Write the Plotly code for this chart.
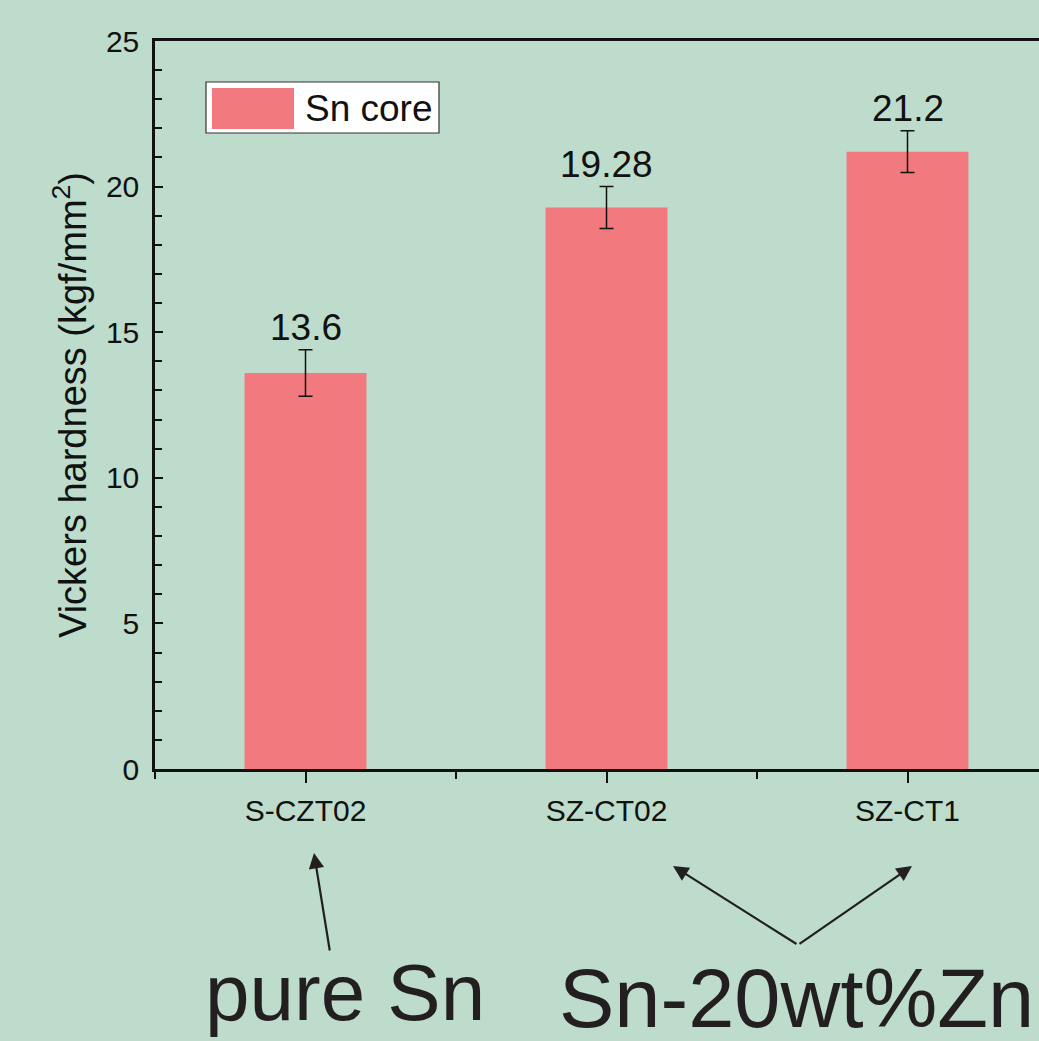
import plotly.graph_objects as go

categories = ["S-CZT02", "SZ-CT02", "SZ-CT1"]
hardness = [13.6, 19.28, 21.2]
errors = [0.8, 0.72, 0.72]
value_labels = ["13.6", "19.28", "21.2"]
series_name = "Sn core"
y_ticks = [0, 5, 10, 15, 20, 25]

BG = "#BDDCCB"
BAR = "#F2797D"
INK = "#231F20"
FONT = "Liberation Sans, Arial, sans-serif"

W, H = 1039, 1041
ML, MR, MT, MB = 155, 0, 41, 272
PW = W - ML - MR
PH = H - MT - MB

def px(x):
    return (x - ML) / PW

def py(y):
    return (H - MB - y) / PH

xs = list(range(len(categories)))

fig = go.Figure()
fig.add_trace(go.Bar(
    x=xs, y=hardness, width=0.405, name=series_name,
    marker=dict(color=BAR, line=dict(width=0)),
    error_y=dict(type="data", array=errors, visible=True,
                 color="#111111", thickness=1.5, width=7),
    showlegend=False,
))

# value labels above error bars
for xi, v, e, t in zip(xs, hardness, errors, value_labels):
    fig.add_annotation(x=xi, y=v + e, xref="x", yref="y", text=t,
                       showarrow=False, yanchor="bottom", yshift=0,
                       font=dict(size=37, color="#111111", family=FONT))

# manual legend
fig.add_shape(type="rect", xref="paper", yref="paper",
              x0=px(206), x1=px(439), y0=py(133), y1=py(82),
              fillcolor="white", line=dict(color="#333333", width=1.2))
fig.add_shape(type="rect", xref="paper", yref="paper",
              x0=px(212), x1=px(294), y0=py(129), y1=py(88),
              fillcolor=BAR, line=dict(width=0))
fig.add_annotation(x=px(303), y=py(108), xref="paper", yref="paper",
                   text=series_name, showarrow=False, xanchor="left",
                   yanchor="middle",
                   font=dict(size=37, color="#111111", family=FONT))

# group annotations below the axis
fig.add_annotation(x=px(314), y=py(853), xref="paper", yref="paper",
                   text="", showarrow=True, ax=16, ay=99,
                   arrowhead=2, arrowsize=1.4, arrowwidth=2.2, arrowcolor=INK)
fig.add_annotation(x=px(673), y=py(866), xref="paper", yref="paper",
                   text="", showarrow=True, ax=125, ay=79,
                   arrowhead=2, arrowsize=1.4, arrowwidth=2.2, arrowcolor=INK)
fig.add_annotation(x=px(912), y=py(866), xref="paper", yref="paper",
                   text="", showarrow=True, ax=-114, ay=79,
                   arrowhead=2, arrowsize=1.4, arrowwidth=2.2, arrowcolor=INK)
fig.add_annotation(x=px(345), y=py(992), xref="paper", yref="paper",
                   text="pure Sn", showarrow=False, xanchor="center",
                   yanchor="middle",
                   font=dict(size=80, color=INK, family=FONT))
fig.add_annotation(x=px(796), y=py(998), xref="paper", yref="paper",
                   text="Sn-20wt%Zn", showarrow=False, xanchor="center",
                   yanchor="middle",
                   font=dict(size=83, color=INK, family=FONT))

fig.update_layout(
    width=W, height=H,
    margin=dict(l=ML, r=MR, t=MT, b=MB, pad=0),
    paper_bgcolor=BG, plot_bgcolor=BG,
    font=dict(family=FONT, color="#111111"),
    xaxis=dict(
        range=[-0.5, -0.5 + PW / 301.0],
        tickmode="array", tickvals=xs, ticktext=categories,
        ticks="outside", ticklen=11, tickwidth=2, tickcolor="#111111",
        minor=dict(ticks="outside", ticklen=7, tickwidth=2,
                   tickcolor="#111111", tick0=-0.5, dtick=0.5),
        showline=True, linewidth=2.5, linecolor="#111111", mirror=True,
        showgrid=False, zeroline=False,
        tickfont=dict(size=30, family=FONT, color="#111111"),
        ticklabelstandoff=2,
    ),
    yaxis=dict(
        range=[0, 25], tickmode="array", tickvals=y_ticks,
        ticks="inside", ticklen=8, tickwidth=2, tickcolor="#111111",
        minor=dict(ticks="inside", ticklen=7, tickwidth=2,
                   tickcolor="#111111", dtick=1),
        showline=True, linewidth=2.5, linecolor="#111111", mirror=False,
        showgrid=False, zeroline=False,
        tickfont=dict(size=30, family=FONT, color="#111111"),
        ticklabelstandoff=7,
        title=dict(text="Vickers hardness (kgf/mm<sup>2</sup>)",
                   font=dict(size=38, family=FONT, color="#111111"),
                   standoff=8),
    ),
)

fig.write_html(
    "out.html",
    config={"displayModeBar": False},
    post_script="document.body.style.margin='0';document.body.style.background='" + BG + "';",
)
